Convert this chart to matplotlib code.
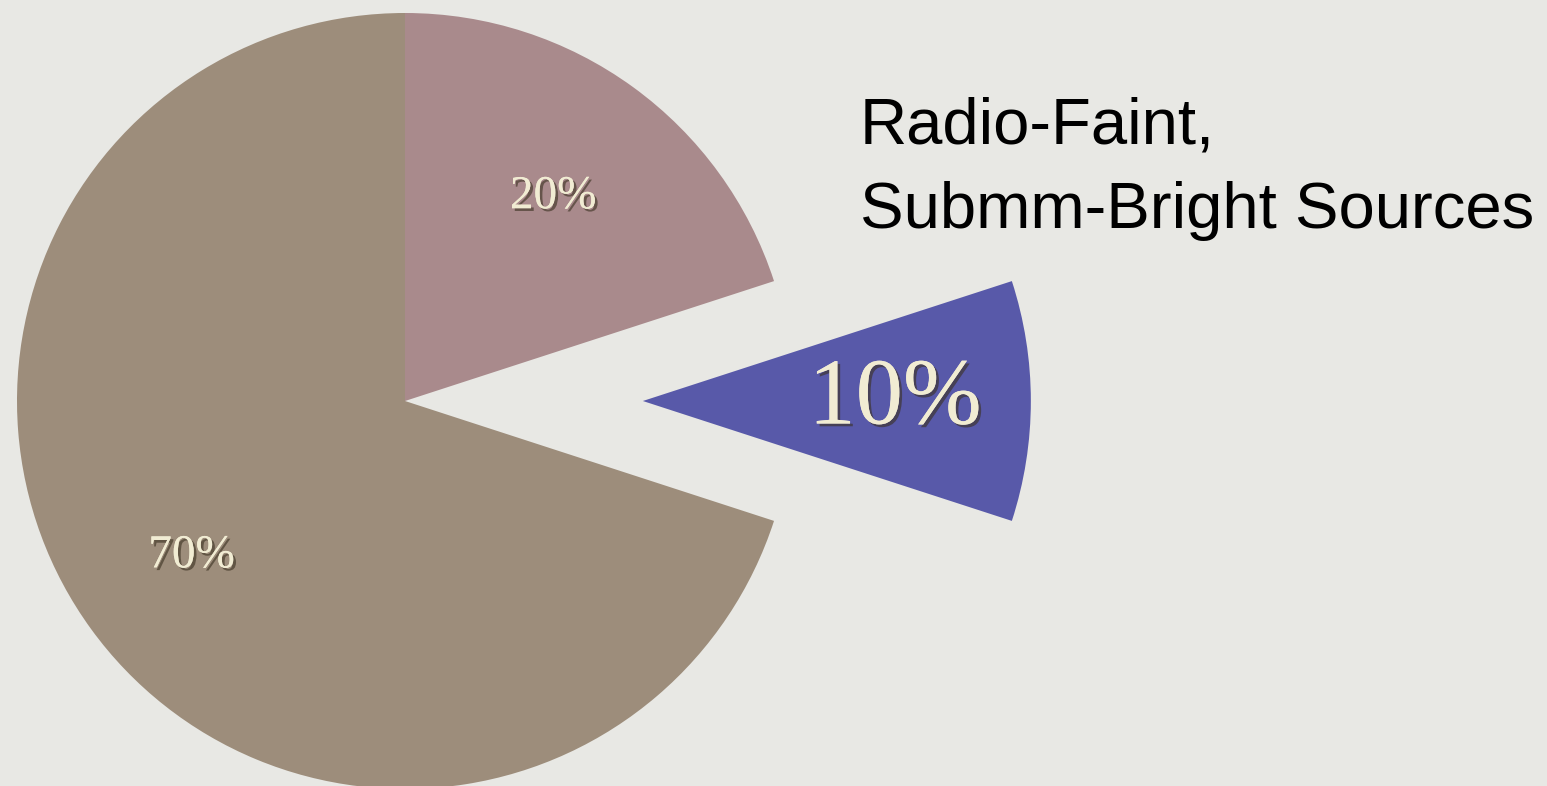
import numpy as np
import matplotlib
matplotlib.use("Agg")
import matplotlib.pyplot as plt
import matplotlib.patheffects as pe

# slices, clockwise from 12 o'clock
labels = ["20%", "10%", "70%"]
shares = [20, 10, 70]
colors = ["#a98a8c", "#5859a9", "#9d8d7b"]
explode = [0, 0.613, 0]   # as a fraction of the radius
label_dist = [0.65, 0.65, 0.68]
label_size = [34, 68, 34]

W, H = 1547, 786
fig = plt.figure(figsize=(W / 100, H / 100), dpi=100)
fig.patch.set_facecolor("#e8e8e4")
ax = fig.add_axes([0, 0, 1, 1])
ax.set_facecolor("#e8e8e4")

R = 388
cx, cy = 405, H - 401
# pie() takes explode in data units, so scale by the radius
wedges, _ = ax.pie(shares, colors=colors, explode=[e * R for e in explode],
                   startangle=90, counterclock=False, radius=R, center=(cx, cy),
                   wedgeprops=dict(linewidth=0, antialiased=True))

shadow = [pe.withSimplePatchShadow(offset=(2, -2), shadow_rgbFace="#3a3020", alpha=0.6),
          pe.Normal()]
for w, lab, d, fs in zip(wedges, labels, label_dist, label_size):
    mid = np.deg2rad((w.theta1 + w.theta2) / 2)
    x0, y0 = w.center
    ax.text(x0 + d * R * np.cos(mid), y0 + d * R * np.sin(mid), lab,
            ha="center", va="center", fontsize=fs, family="Liberation Serif",
            color="#f1ecd3", path_effects=shadow)

ax.text(860, H - 143, "Radio-Faint,", fontsize=47, family="Liberation Sans",
        color="black", ha="left", va="baseline")
ax.text(860, H - 228, "Submm-Bright Sources", fontsize=47, family="Liberation Sans",
        color="black", ha="left", va="baseline")

ax.set_xlim(0, W)
ax.set_ylim(0, H)
ax.set_aspect("auto")
ax.axis("off")

fig.savefig("out.png", dpi=100, facecolor=fig.get_facecolor())
